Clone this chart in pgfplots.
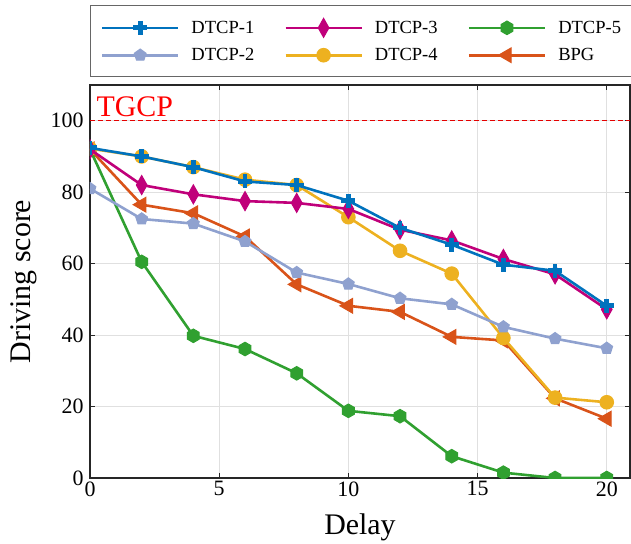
\documentclass[border=0pt]{standalone}
\usepackage{fontspec}
\setmainfont{Liberation Serif}
\usepackage{pgfplots}
\pgfplotsset{compat=1.18}
\usetikzlibrary{plotmarks}

\definecolor{c1}{HTML}{0072BD}
\definecolor{c2}{HTML}{8FA1CF}
\definecolor{c3}{HTML}{C0007A}
\definecolor{c4}{HTML}{EDB120}
\definecolor{c5}{HTML}{30A030}
\definecolor{c6}{HTML}{D95319}

% pointy-top hexagon, like matplotlib 'h'
\pgfdeclareplotmark{hexagon*}{%
  \pgfpathmoveto{\pgfqpointpolar{90}{\pgfplotmarksize}}%
  \pgfpathlineto{\pgfqpointpolar{150}{\pgfplotmarksize}}%
  \pgfpathlineto{\pgfqpointpolar{210}{\pgfplotmarksize}}%
  \pgfpathlineto{\pgfqpointpolar{270}{\pgfplotmarksize}}%
  \pgfpathlineto{\pgfqpointpolar{330}{\pgfplotmarksize}}%
  \pgfpathlineto{\pgfqpointpolar{30}{\pgfplotmarksize}}%
  \pgfpathclose
  \pgfusepathqfillstroke}

\pgfplotsset{
  s1/.style={c1, line width=2.6bp, mark=+, mark size=7bp, mark options={solid, line width=4.8bp}},
  s2/.style={c2, line width=2.6bp, mark=pentagon*, mark size=6.2bp, mark options={solid, fill=c2, line width=1bp}},
  s3/.style={c3, line width=2.6bp, mark=diamond*, mark size=9.5bp, mark options={solid, fill=c3, line width=1bp, xscale=0.75}},
  s4/.style={c4, line width=2.6bp, mark=*, mark size=6.8bp, mark options={solid, fill=c4, line width=1bp}},
  s5/.style={c5, line width=2.6bp, mark=hexagon*, mark size=6.8bp, mark options={solid, fill=c5, line width=1bp}},
  s6/.style={c6, line width=2.6bp, mark=triangle*, mark size=8.5bp, mark options={solid, fill=c6, line width=1bp, rotate=90}},
}

\begin{document}
\begin{tikzpicture}
\begin{axis}[
    scale only axis,
    width=540bp, height=393bp,
    xmin=0, xmax=20.9,
    ymin=0, ymax=110,
    xtick={0,5,10,15,20},
    ytick={0,20,40,60,80,100},
    xlabel={Delay},
    ylabel={Driving score},
    label style={font=\fontsize{30}{34}\selectfont},
    xlabel style={at={(axis description cs:0.5,0)}, anchor=base, yshift=-56bp},
    ylabel style={at={(axis description cs:-0.111,0.5)}, anchor=base},
    tick label style={font=\fontsize{22}{26}\selectfont},
    yticklabel style={xshift=-3bp},
    /pgf/number format/assume math mode=true,
    grid=major,
    major grid style={black!12, line width=0.9bp},
    axis line style={black!85, line width=1.3bp},
    major tick length=5bp,
    tick style={black!85, line width=1.1bp},
    clip marker paths=true,
    legend columns=3,
    legend cell align=left,
    legend image code/.code={\draw[mark repeat=2,mark phase=2] plot coordinates {(0bp,0bp) (38bp,0bp) (76bp,0bp)};},
    legend style={
        at={(0,1)}, anchor=south west, yshift=8bp,
        draw=black!60, line width=0.8bp,
        font=\fontsize{18.6}{22}\selectfont,
        inner xsep=10.5bp, inner ysep=12.5bp,
        row sep=9bp,
        /tikz/every odd column/.append style={column sep=10bp},
        /tikz/every even column/.append style={column sep=28bp},
    },
]
% legend entries in the reference's order
\addlegendimage{s1}\addlegendentry{DTCP-1}
\addlegendimage{s3}\addlegendentry{DTCP-3}
\addlegendimage{s5}\addlegendentry{DTCP-5}
\addlegendimage{s2}\addlegendentry{DTCP-2}
\addlegendimage{s4}\addlegendentry{DTCP-4}
\addlegendimage{s6}\addlegendentry{BPG}

% TGCP reference level
\addplot[red!90!black, line width=1bp, dash pattern=on 5bp off 3bp, forget plot] coordinates {(0,100) (20.9,100)};
\node[red, anchor=base west, font=\fontsize{30}{34}\selectfont, inner sep=0pt] at (axis cs:0.25,101.2) {TGCP};

\addplot[s6, forget plot] coordinates {(0,92) (2,76.5) (4,74.1) (6,67.6) (8,54.2) (10,48.2) (12,46.5) (14,39.5) (16,38.5) (18,22.3) (20,16.6)};
\addplot[s5, forget plot] coordinates {(0,92) (2,60.5) (4,39.8) (6,36.1) (8,29.3) (10,18.8) (12,17.3) (14,6.1) (16,1.5) (18,0) (20,0)};
\addplot[s4, forget plot] coordinates {(0,92.2) (2,90) (4,87) (6,83.5) (8,82) (10,73) (12,63.6) (14,57.2) (16,39.2) (18,22.5) (20,21.2)};
\addplot[s3, forget plot] coordinates {(0,92) (2,82) (4,79.4) (6,77.5) (8,77) (10,75.3) (12,69.5) (14,66.5) (16,61.3) (18,57) (20,47.2)};
\addplot[s2, forget plot] coordinates {(0,81) (2,72.5) (4,71.2) (6,66.2) (8,57.5) (10,54.3) (12,50.3) (14,48.6) (16,42.3) (18,39) (20,36.3)};
\addplot[s1, forget plot] coordinates {(0,92.4) (2,90) (4,87) (6,83) (8,82) (10,77.6) (12,70) (14,65.3) (16,59.7) (18,58) (20,48.2)};
\end{axis}
% page margins as in the reference
\pgfresetboundingbox
\path ([shift={(-90bp,-66bp)}]current axis.south west) rectangle ([shift={(1bp,85bp)}]current axis.north east);
\end{tikzpicture}
\end{document}
